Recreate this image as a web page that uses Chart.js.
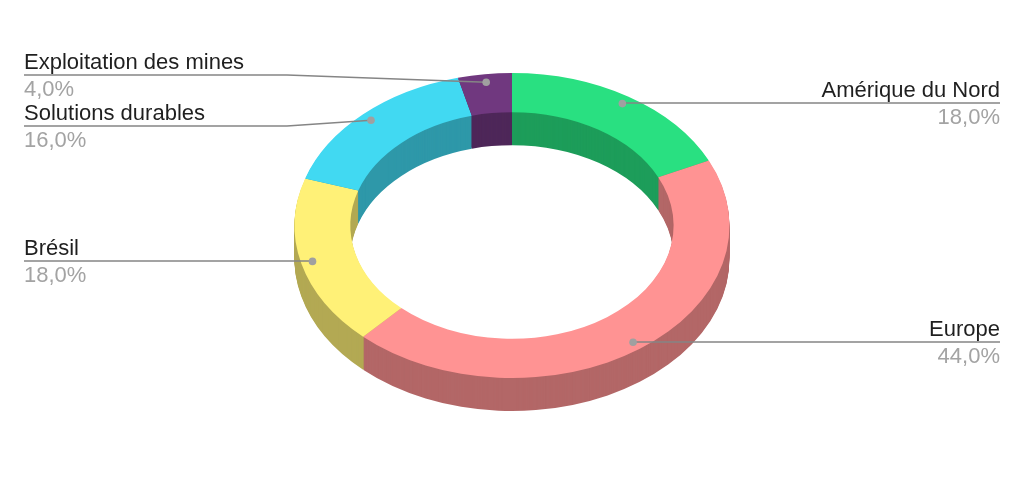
<!DOCTYPE html>
<html>
<head>
<meta charset="utf-8">
<style>
  html, body { margin: 0; padding: 0; background: #fff; }
  canvas { display: block; }
</style>
<script src="https://cdn.jsdelivr.net/npm/chart.js@4"></script>
</head>
<body>
<canvas id="ring" width="1024" height="484"></canvas>
<script>
// chart data
let categories = ["Amérique du Nord", "Europe", "Brésil", "Solutions durables", "Exploitation des mines"];
let shares = [18, 44, 18, 16, 4];

// colours of the top face and of the side walls
let topColors = ["#29e081", "#ff9393", "#fff177", "#41d9f2", "#70387f"];
let wallColors = ["#1d9d5a", "#b36767", "#b3a953", "#2e98a9", "#4e2759"];

// where each label's underline sits (y) and its bend point, null = straight line
let labelLineY = [103, 342, 261, 126, 75];
let labelBendX = [null, null, null, 287, 287];
let labelOnRight = [true, true, false, false, false];

const TILT = 0.701;      // ellipse height / width
const DEPTH = 33;        // thickness of the ring in px
const DOT_RADIUS = 0.947; // dots sit close to the outer edge

function squash(ctx, arc, dy) {
  ctx.translate(arc.x, arc.y + dy);
  ctx.scale(1, TILT);
  ctx.translate(-arc.x, -arc.y);
}

// tilts the doughnut and extrudes it downwards
let tiltPlugin = {
  id: "tilt",
  beforeDatasetsDraw(chart) {
    let ctx = chart.ctx;
    let arcs = chart.getDatasetMeta(0).data;

    for (let dy = DEPTH; dy > 0; dy--) {
      ctx.save();
      squash(ctx, arcs[0], dy);
      arcs.forEach(function (arc, i) {
        let saved = arc.options;
        arc.options = Object.assign(Object.create(saved), { backgroundColor: wallColors[i] });
        arc.draw(ctx);
        arc.options = saved;
      });
      ctx.restore();
    }

    ctx.save();
    squash(ctx, arcs[0], 0);
  },
  afterDatasetsDraw(chart) {
    chart.ctx.restore();
  },
};

// leader lines, dots and the text labels
let labelPlugin = {
  id: "labels",
  afterDraw(chart) {
    let ctx = chart.ctx;
    let arcs = chart.getDatasetMeta(0).data;

    arcs.forEach(function (arc, i) {
      let angle = (arc.startAngle + arc.endAngle) / 2;
      let dotX = arc.x + Math.cos(angle) * arc.outerRadius * DOT_RADIUS;
      let dotY = arc.y + Math.sin(angle) * arc.outerRadius * DOT_RADIUS * TILT;
      let endX = labelOnRight[i] ? 1000 : 24;
      let y = labelLineY[i];

      ctx.strokeStyle = "#858585";
      ctx.lineWidth = 1.6;
      ctx.beginPath();
      ctx.moveTo(dotX, dotY);
      if (labelBendX[i] !== null) {
        ctx.lineTo(labelBendX[i], y);
      } else {
        ctx.lineTo(dotX, y);
      }
      ctx.lineTo(endX, y);
      ctx.stroke();

      ctx.fillStyle = "#a0a0a0";
      ctx.beginPath();
      ctx.arc(dotX, dotY, 3.8, 0, Math.PI * 2);
      ctx.fill();

      ctx.font = "22px 'Liberation Sans', Arial, sans-serif";
      ctx.textAlign = labelOnRight[i] ? "right" : "left";
      ctx.textBaseline = "alphabetic";
      ctx.fillStyle = "#1f1f1f";
      ctx.fillText(categories[i], endX, y - 6);
      ctx.fillStyle = "#a3a3a3";
      ctx.fillText(shares[i].toFixed(1).replace(".", ",") + "%", endX, y + 21);
    });
  },
};

let ringChart = new Chart(document.querySelector("#ring").getContext("2d"), {
  type: "doughnut",
  data: {
    labels: categories,
    datasets: [
      {
        data: shares,
        backgroundColor: topColors,
        borderWidth: 0,
      },
    ],
  },
  options: {
    responsive: false,
    animation: false,
    devicePixelRatio: 1,
    radius: 217.5,
    cutout: "74.3%",
    layout: { padding: { bottom: 33 } },
    plugins: {
      legend: { display: false },
      tooltip: { enabled: false },
    },
  },
  plugins: [tiltPlugin, labelPlugin],
});
</script>
</body>
</html>
